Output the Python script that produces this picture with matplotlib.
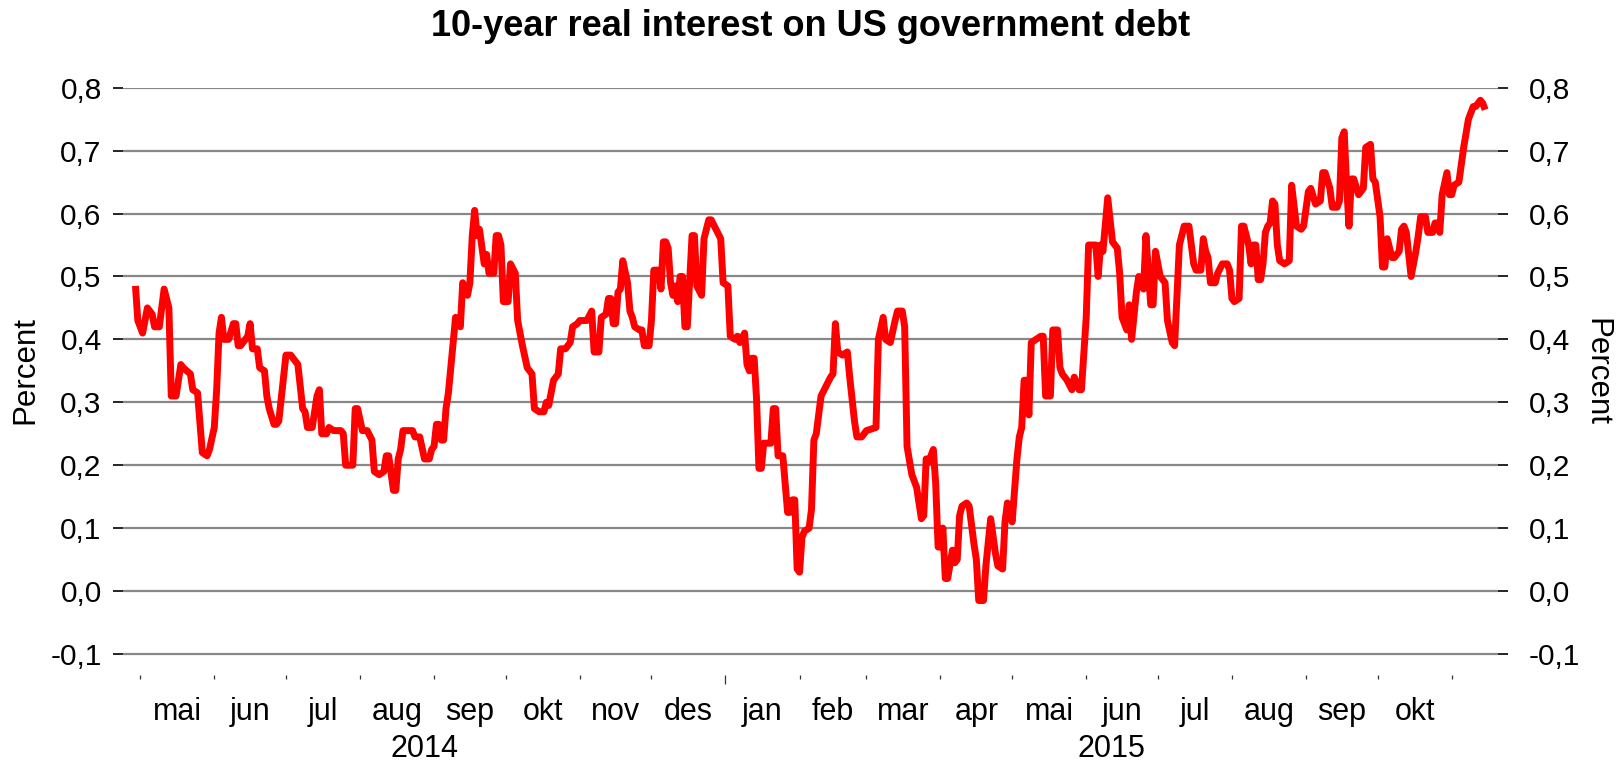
import matplotlib
matplotlib.use('Agg')
import matplotlib.pyplot as plt
import matplotlib.dates as mdates
import matplotlib.transforms as mtransforms
import pandas as pd

plt.rcParams['font.family'] = ['Liberation Sans', 'DejaVu Sans']

title = '10-year real interest on US government debt'
y_label = 'Percent'

# values (percent), one entry per turning point of the line
dates = [
    '2014-04-29', '2014-04-30', '2014-05-02', '2014-05-04', '2014-05-06', '2014-05-07', '2014-05-09',
    '2014-05-11', '2014-05-13', '2014-05-14', '2014-05-16', '2014-05-18', '2014-05-19', '2014-05-22',
    '2014-05-23', '2014-05-25', '2014-05-27', '2014-05-29', '2014-05-30',
    '2014-06-01', '2014-06-02', '2014-06-03', '2014-06-04', '2014-06-05', '2014-06-07', '2014-06-09',
    '2014-06-10', '2014-06-11', '2014-06-12', '2014-06-15', '2014-06-16', '2014-06-17', '2014-06-19',
    '2014-06-20', '2014-06-22', '2014-06-23', '2014-06-24', '2014-06-26', '2014-06-27', '2014-06-28',
    '2014-07-01', '2014-07-03', '2014-07-04', '2014-07-06', '2014-07-08', '2014-07-09', '2014-07-10',
    '2014-07-12', '2014-07-14', '2014-07-15', '2014-07-16', '2014-07-18', '2014-07-19', '2014-07-21',
    '2014-07-24', '2014-07-25', '2014-07-26', '2014-07-29', '2014-07-30', '2014-07-31',
    '2014-08-02', '2014-08-04', '2014-08-06', '2014-08-07', '2014-08-09', '2014-08-11', '2014-08-12',
    '2014-08-13', '2014-08-15', '2014-08-16', '2014-08-17', '2014-08-18', '2014-08-19', '2014-08-23',
    '2014-08-24', '2014-08-26', '2014-08-28', '2014-08-30', '2014-08-31',
    '2014-09-01', '2014-09-02', '2014-09-03', '2014-09-04', '2014-09-05', '2014-09-06', '2014-09-07',
    '2014-09-09', '2014-09-10', '2014-09-12', '2014-09-13', '2014-09-15', '2014-09-16', '2014-09-17',
    '2014-09-18', '2014-09-19', '2014-09-20', '2014-09-22', '2014-09-23', '2014-09-24', '2014-09-26',
    '2014-09-27', '2014-09-28', '2014-09-29', '2014-09-30',
    '2014-10-02', '2014-10-03', '2014-10-05', '2014-10-06', '2014-10-08', '2014-10-10', '2014-10-12',
    '2014-10-13', '2014-10-15', '2014-10-17', '2014-10-18', '2014-10-19', '2014-10-21', '2014-10-23',
    '2014-10-24', '2014-10-26', '2014-10-28', '2014-10-29', '2014-10-31',
    '2014-11-01', '2014-11-04', '2014-11-06', '2014-11-07', '2014-11-09', '2014-11-10', '2014-11-12',
    '2014-11-13', '2014-11-14', '2014-11-15', '2014-11-16', '2014-11-17', '2014-11-18', '2014-11-19',
    '2014-11-21', '2014-11-22', '2014-11-23', '2014-11-24', '2014-11-26', '2014-11-27', '2014-11-28',
    '2014-11-30',
    '2014-12-01', '2014-12-02', '2014-12-04', '2014-12-05', '2014-12-06', '2014-12-07', '2014-12-08',
    '2014-12-09', '2014-12-10', '2014-12-11', '2014-12-12', '2014-12-13', '2014-12-14', '2014-12-15',
    '2014-12-16', '2014-12-18', '2014-12-19', '2014-12-20', '2014-12-22', '2014-12-23', '2014-12-25',
    '2014-12-26', '2014-12-28', '2014-12-30', '2014-12-31',
    '2015-01-02', '2015-01-03', '2015-01-05', '2015-01-06', '2015-01-07', '2015-01-09', '2015-01-10',
    '2015-01-11', '2015-01-12', '2015-01-13', '2015-01-14', '2015-01-15', '2015-01-16', '2015-01-17',
    '2015-01-20', '2015-01-21', '2015-01-22', '2015-01-23', '2015-01-25', '2015-01-27', '2015-01-28',
    '2015-01-29', '2015-01-30', '2015-01-31',
    '2015-02-01', '2015-02-02', '2015-02-03', '2015-02-05', '2015-02-06', '2015-02-07', '2015-02-08',
    '2015-02-10', '2015-02-12', '2015-02-14', '2015-02-15', '2015-02-16', '2015-02-17', '2015-02-19',
    '2015-02-21', '2015-02-22', '2015-02-24', '2015-02-25', '2015-02-27',
    '2015-03-01', '2015-03-05', '2015-03-06', '2015-03-08', '2015-03-09', '2015-03-11', '2015-03-13',
    '2015-03-14', '2015-03-16', '2015-03-17', '2015-03-18', '2015-03-20', '2015-03-21', '2015-03-22',
    '2015-03-24', '2015-03-25', '2015-03-26', '2015-03-27', '2015-03-29', '2015-03-30', '2015-03-31',
    '2015-04-01', '2015-04-02', '2015-04-03', '2015-04-04', '2015-04-06', '2015-04-07', '2015-04-08',
    '2015-04-09', '2015-04-10', '2015-04-12', '2015-04-13', '2015-04-15', '2015-04-16', '2015-04-17',
    '2015-04-19', '2015-04-20', '2015-04-22', '2015-04-24', '2015-04-25', '2015-04-27', '2015-04-28',
    '2015-04-29',
    '2015-05-01', '2015-05-03', '2015-05-04', '2015-05-05', '2015-05-06', '2015-05-07', '2015-05-08',
    '2015-05-09', '2015-05-11', '2015-05-13', '2015-05-14', '2015-05-15', '2015-05-17', '2015-05-18',
    '2015-05-20', '2015-05-21', '2015-05-22', '2015-05-24', '2015-05-26', '2015-05-27', '2015-05-29',
    '2015-05-30',
    '2015-06-01', '2015-06-02', '2015-06-05', '2015-06-06', '2015-06-07', '2015-06-08', '2015-06-10',
    '2015-06-12', '2015-06-14', '2015-06-15', '2015-06-16', '2015-06-18', '2015-06-19', '2015-06-20',
    '2015-06-22', '2015-06-23', '2015-06-25', '2015-06-26', '2015-06-28', '2015-06-29', '2015-06-30',
    '2015-07-02', '2015-07-04', '2015-07-05', '2015-07-07', '2015-07-08', '2015-07-10', '2015-07-12',
    '2015-07-14', '2015-07-15', '2015-07-16', '2015-07-17', '2015-07-19', '2015-07-20', '2015-07-21',
    '2015-07-22', '2015-07-23', '2015-07-25', '2015-07-26', '2015-07-28', '2015-07-30', '2015-07-31',
    '2015-08-01', '2015-08-02', '2015-08-04', '2015-08-05', '2015-08-06', '2015-08-08', '2015-08-09',
    '2015-08-10', '2015-08-11', '2015-08-12', '2015-08-13', '2015-08-14', '2015-08-15', '2015-08-16',
    '2015-08-17', '2015-08-18', '2015-08-19', '2015-08-20', '2015-08-21', '2015-08-23', '2015-08-25',
    '2015-08-26', '2015-08-28', '2015-08-30', '2015-08-31',
    '2015-09-02', '2015-09-03', '2015-09-05', '2015-09-07', '2015-09-08', '2015-09-09', '2015-09-11',
    '2015-09-12', '2015-09-14', '2015-09-15', '2015-09-16', '2015-09-17', '2015-09-18', '2015-09-19',
    '2015-09-20', '2015-09-21', '2015-09-23', '2015-09-24', '2015-09-25', '2015-09-26', '2015-09-28',
    '2015-09-29', '2015-09-30',
    '2015-10-02', '2015-10-03', '2015-10-04', '2015-10-05', '2015-10-07', '2015-10-08', '2015-10-10',
    '2015-10-11', '2015-10-12', '2015-10-13', '2015-10-15', '2015-10-17', '2015-10-18', '2015-10-19',
    '2015-10-21', '2015-10-22', '2015-10-24', '2015-10-25', '2015-10-26', '2015-10-27', '2015-10-28',
    '2015-10-30', '2015-10-31',
    '2015-11-01', '2015-11-02', '2015-11-04', '2015-11-06', '2015-11-08', '2015-11-10', '2015-11-11',
    '2015-11-13', '2015-11-14', '2015-11-15',
]
values = [
    0.485, 0.43, 0.41, 0.45, 0.44, 0.42, 0.42,
    0.48, 0.45, 0.31, 0.31, 0.36, 0.355, 0.345,
    0.32, 0.315, 0.22, 0.215, 0.225,
    0.26, 0.32, 0.41, 0.435, 0.40, 0.40, 0.425,
    0.425, 0.39, 0.39, 0.405, 0.425, 0.385, 0.385,
    0.355, 0.35, 0.31, 0.29, 0.265, 0.265, 0.27,
    0.375, 0.375, 0.37, 0.36, 0.29, 0.285, 0.26,
    0.26, 0.31, 0.32, 0.25, 0.25, 0.26, 0.255,
    0.255, 0.25, 0.20, 0.20, 0.29, 0.29,
    0.255, 0.255, 0.24, 0.19, 0.185, 0.19, 0.215,
    0.215, 0.16, 0.16, 0.21, 0.225, 0.255, 0.255,
    0.245, 0.245, 0.21, 0.21, 0.225,
    0.23, 0.265, 0.265, 0.24, 0.24, 0.29, 0.315,
    0.395, 0.435, 0.42, 0.49, 0.47, 0.49, 0.565,
    0.605, 0.565, 0.575, 0.52, 0.535, 0.505, 0.505,
    0.565, 0.565, 0.55, 0.46,
    0.46, 0.52, 0.505, 0.43, 0.39, 0.355, 0.345,
    0.29, 0.285, 0.285, 0.30, 0.295, 0.335, 0.345,
    0.385, 0.385, 0.395, 0.42, 0.425,
    0.43, 0.43, 0.445, 0.38, 0.38, 0.435, 0.44,
    0.465, 0.465, 0.425, 0.425, 0.475, 0.48, 0.525,
    0.49, 0.445, 0.435, 0.42, 0.415, 0.415, 0.39,
    0.39,
    0.43, 0.51, 0.51, 0.48, 0.555, 0.555, 0.545,
    0.49, 0.47, 0.485, 0.46, 0.50, 0.50, 0.42,
    0.42, 0.565, 0.565, 0.485, 0.47, 0.56, 0.59,
    0.59, 0.575, 0.56, 0.49,
    0.485, 0.405, 0.40, 0.405, 0.395, 0.41, 0.36,
    0.35, 0.37, 0.37, 0.305, 0.195, 0.195, 0.235,
    0.235, 0.29, 0.29, 0.215, 0.215, 0.125, 0.125,
    0.145, 0.145, 0.035,
    0.03, 0.085, 0.095, 0.10, 0.13, 0.24, 0.25,
    0.31, 0.325, 0.34, 0.345, 0.425, 0.38, 0.375,
    0.38, 0.34, 0.27, 0.245, 0.245,
    0.255, 0.26, 0.40, 0.435, 0.40, 0.395, 0.43,
    0.445, 0.445, 0.42, 0.23, 0.185, 0.175, 0.165,
    0.115, 0.12, 0.21, 0.205, 0.225, 0.17, 0.07,
    0.07, 0.10, 0.02, 0.02, 0.065, 0.045, 0.05,
    0.12, 0.135, 0.14, 0.135, 0.075, 0.05, -0.015,
    -0.015, 0.04, 0.115, 0.06, 0.04, 0.035, 0.11,
    0.14,
    0.11, 0.21, 0.245, 0.26, 0.335, 0.335, 0.28,
    0.395, 0.40, 0.405, 0.405, 0.31, 0.31, 0.415,
    0.415, 0.355, 0.345, 0.335, 0.32, 0.34, 0.32,
    0.32,
    0.435, 0.55, 0.55, 0.50, 0.55, 0.54, 0.625,
    0.555, 0.545, 0.505, 0.435, 0.415, 0.455, 0.40,
    0.475, 0.50, 0.48, 0.565, 0.455, 0.455, 0.54,
    0.50, 0.49, 0.43, 0.395, 0.39, 0.55, 0.58,
    0.58, 0.55, 0.52, 0.51, 0.51, 0.56, 0.54,
    0.53, 0.49, 0.49, 0.505, 0.52, 0.52, 0.51,
    0.465, 0.46, 0.465, 0.58, 0.58, 0.55, 0.52,
    0.55, 0.55, 0.495, 0.495, 0.52, 0.57, 0.58,
    0.585, 0.62, 0.615, 0.55, 0.525, 0.52, 0.525,
    0.645, 0.58, 0.575, 0.58,
    0.635, 0.64, 0.615, 0.62, 0.665, 0.665, 0.64,
    0.61, 0.61, 0.62, 0.72, 0.73, 0.645, 0.58,
    0.655, 0.655, 0.63, 0.635, 0.64, 0.705, 0.71,
    0.655, 0.65,
    0.595, 0.515, 0.515, 0.56, 0.53, 0.53, 0.54,
    0.575, 0.58, 0.57, 0.50, 0.54, 0.565, 0.595,
    0.595, 0.57, 0.57, 0.585, 0.585, 0.57, 0.63,
    0.665, 0.63,
    0.63, 0.645, 0.65, 0.705, 0.75, 0.77, 0.77,
    0.78, 0.775, 0.765,
]

month_names = ['mai', 'jun', 'jul', 'aug', 'sep', 'okt', 'nov', 'des', 'jan',
               'feb', 'mar', 'apr', 'mai', 'jun', 'jul', 'aug', 'sep', 'okt']
years = ['2014', '2015']
y_ticks = [-0.1, 0.0, 0.1, 0.2, 0.3, 0.4, 0.5, 0.6, 0.7, 0.8]
y_ticklabels = ['-0,1', '0,0', '0,1', '0,2', '0,3', '0,4', '0,5', '0,6', '0,7', '0,8']

x = mdates.date2num(pd.to_datetime(dates))
month_starts = mdates.date2num(pd.date_range('2014-05-01', '2015-11-01', freq='MS'))
month_mids = (month_starts[:-1] + month_starts[1:]) / 2
x_left = mdates.date2num(pd.Timestamp('2014-04-23 22:00'))
x_right = mdates.date2num(pd.Timestamp('2015-11-20 12:00'))
year_break = mdates.date2num(pd.Timestamp('2015-01-01'))

W, H = 1621, 763
fig = plt.figure(figsize=(W / 100, H / 100), dpi=100)
ax = fig.add_axes([123.3 / W, 1 - 675 / H, (1498.3 - 123.3) / W, (675 - 87.7) / H])

ax.plot(x, values, color='#ff0000', lw=5.0, solid_joinstyle='round',
        solid_capstyle='butt', zorder=3, clip_on=False)

ax.set_xlim(x_left, x_right)
ax.set_ylim(-0.1334, 0.8)
ax.set_yticks(y_ticks)
ax.set_yticklabels(y_ticklabels)
ax.grid(axis='y', color='#888888', lw=1.6)
ax.set_axisbelow(True)
for s in ax.spines.values():
    s.set_visible(False)
ax.tick_params(axis='y', direction='out', length=7.2, width=1.2, color='black',
               labelsize=21.5, pad=8.4)

# month ticks, labels in between
ax.set_xticks(month_starts)
ax.set_xticklabels([''] * len(month_starts))
ax.set_xticks(month_mids, minor=True)
ax.set_xticklabels(month_names, minor=True)
ax.tick_params(axis='x', which='major', direction='out', length=3, width=0.9, color='#333333')
ax.tick_params(axis='x', which='minor', length=0, pad=15.6, labelsize=22)
for t, loc in zip(ax.xaxis.get_major_ticks(), month_starts):
    if loc == year_break:
        t.tick1line.set_markersize(6.5)

trans = mtransforms.blended_transform_factory(ax.transData, ax.transAxes)
ax.text((x_left + year_break) / 2, -0.1396, years[0], transform=trans,
        ha='center', va='baseline', fontsize=22)
ax.text((year_break + x_right) / 2, -0.1396, years[1], transform=trans,
        ha='center', va='baseline', fontsize=22)

ax2 = ax.twinx()
ax2.set_ylim(ax.get_ylim())
ax2.set_yticks(y_ticks)
ax2.set_yticklabels(y_ticklabels)
for s in ax2.spines.values():
    s.set_visible(False)
ax2.tick_params(axis='y', direction='out', length=7.2, width=1.2, color='black',
                labelsize=21.5, pad=14.6)

fig.text(0.5, 1 - 36 / H, title, ha='center', va='baseline', fontsize=26, fontweight='bold')
fig.text(25 / W, 1 - 370 / H, y_label, rotation=90, ha='center', va='center', fontsize=22.5)
fig.text(1596 / W, 1 - 372 / H, y_label, rotation=270, ha='center', va='center', fontsize=22.5)

fig.savefig('out.png', dpi=100)
